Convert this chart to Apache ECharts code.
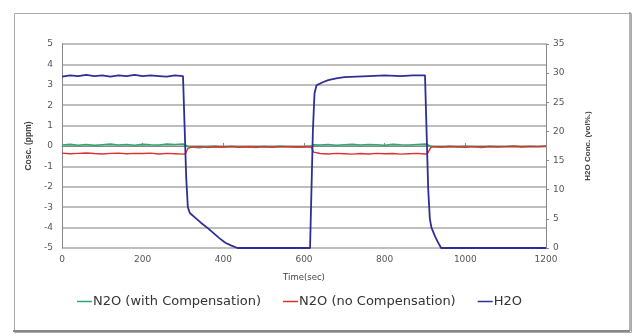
<!DOCTYPE html>
<html>
<head>
<meta charset="utf-8">
<script src="https://cdn.jsdelivr.net/npm/echarts@6/dist/echarts.min.js"></script>
<style>html,body{margin:0;padding:0;background:#fff;}#c{width:639px;height:336px;}</style>
</head>
<body>
<div id="c"></div>
<script>
var xTicks = [0, 200, 400, 600, 800, 1000, 1200];
var leftTicks = [-5, -4, -3, -2, -1, 0, 1, 2, 3, 4, 5];
var rightTicks = [0, 5, 10, 15, 20, 25, 30, 35];

var h2oTime = [0,20,40,60,80,100,120,140,160,180,200,220,240,260,280,300,304,308,312,317,330,345,360,375,390,405,420,435,500,560,615,619,622,626,631,645,660,680,700,730,760,800,840,870,900,904,908,912,916,925,932,940,1000,1100,1200];
var h2oValues = [29.4,29.6,29.5,29.7,29.5,29.6,29.4,29.6,29.5,29.7,29.5,29.6,29.5,29.4,29.6,29.5,29.5,12,7,6.0,5.2,4.3,3.5,2.6,1.7,0.9,0.4,0,0,0,0,0,20,26.5,27.9,28.4,28.8,29.1,29.3,29.4,29.5,29.6,29.5,29.6,29.6,29.6,10,5,3.5,2.0,1.0,0,0,0,0];

var n2oTime = [0,20,40,60,80,100,120,140,160,180,200,220,240,260,280,300,306,312,320,340,360,380,400,420,440,460,480,500,520,540,560,580,600,618,624,640,660,680,700,720,740,760,780,800,820,840,860,880,900,906,914,920,940,960,980,1000,1020,1040,1060,1080,1100,1120,1140,1160,1180,1200];
var n2oWith = [0.05,0.08,0.04,0.07,0.03,0.06,0.09,0.05,0.07,0.04,0.08,0.06,0.05,0.09,0.07,0.1,0.05,-0.03,-0.05,-0.08,-0.04,-0.02,-0.06,-0.03,-0.05,-0.04,-0.07,-0.03,-0.05,-0.02,-0.04,-0.06,-0.03,0.0,0.06,0.05,0.07,0.04,0.06,0.08,0.05,0.07,0.06,0.04,0.08,0.06,0.05,0.07,0.09,0.08,-0.02,-0.04,-0.06,-0.03,-0.05,-0.02,-0.04,-0.07,-0.03,-0.05,-0.04,-0.02,-0.05,-0.03,-0.04,-0.02];
var n2oNo = [-0.35,-0.38,-0.36,-0.34,-0.37,-0.39,-0.36,-0.35,-0.38,-0.36,-0.37,-0.35,-0.39,-0.36,-0.38,-0.4,-0.38,-0.12,-0.06,-0.03,-0.07,-0.04,-0.05,-0.02,-0.06,-0.04,-0.05,-0.03,-0.06,-0.04,-0.03,-0.05,-0.04,-0.06,-0.3,-0.37,-0.39,-0.36,-0.38,-0.4,-0.37,-0.39,-0.36,-0.38,-0.37,-0.4,-0.38,-0.36,-0.39,-0.38,-0.08,-0.03,-0.05,-0.02,-0.04,-0.06,-0.03,-0.05,-0.02,-0.04,-0.03,-0.01,-0.04,-0.02,-0.03,-0.01];

var seriesNames = ['N2O (with Compensation)', 'N2O (no Compensation)', 'H2O'];

function pairs(t, v) { return t.map(function (x, i) { return [x, v[i]]; }); }

var chart = echarts.init(document.getElementById('c'), null, {renderer: 'canvas'});
var axisText = {color: '#555', fontSize: 9, fontFamily: 'DejaVu Sans, sans-serif'};
chart.setOption({
  animation: false,
  backgroundColor: '#fff',
  graphic: [
    {type: 'rect', left: 12, top: 11, shape: {width: 617, height: 319}, style: {fill: 'none', stroke: '#aaa', lineWidth: 1}, z: -10},
    {type: 'line', shape: {x1: 13, y1: 331, x2: 630, y2: 331}, style: {stroke: '#888', lineWidth: 2}, z: -10},
    {type: 'line', shape: {x1: 630, y1: 12, x2: 630, y2: 331}, style: {stroke: '#999', lineWidth: 1.5}, z: -10}
  ],
  grid: {left: 62, right: 93, top: 44, bottom: 88, containLabel: false},
  legend: {
    bottom: 23, left: 72,
    itemWidth: 15, itemHeight: 1.5, itemGap: 22,
    icon: 'rect',
    textStyle: {color: '#333', fontSize: 13, fontFamily: 'DejaVu Sans, sans-serif', padding: [0, 0, 0, -4]},
    data: seriesNames
  },
  xAxis: {
    type: 'value', min: xTicks[0], max: xTicks[xTicks.length - 1], interval: 200,
    name: 'Time(sec)', nameLocation: 'middle', nameGap: 25,
    nameTextStyle: {color: '#444', fontSize: 8.5, fontFamily: 'DejaVu Sans, sans-serif'},
    axisLine: {lineStyle: {color: '#888', width: 1}},
    axisTick: {show: true, inside: true, length: 3, lineStyle: {color: '#888'}},
    axisLabel: Object.assign({margin: 7, formatter: function (v) { return String(v); }}, axisText),
    splitLine: {show: false}
  },
  yAxis: [
    {
      type: 'value', min: leftTicks[0], max: leftTicks[leftTicks.length - 1], interval: 1,
      name: 'Cosc. (ppm)', nameLocation: 'middle', nameGap: 26, nameRotate: 90,
      nameTextStyle: {color: '#444', fontSize: 8.5, fontWeight: 'bold', fontFamily: 'Liberation Sans, Arial, sans-serif'},
      axisLine: {show: true, lineStyle: {color: '#888', width: 1}},
      axisTick: {show: false},
      axisLabel: Object.assign({margin: 9}, axisText),
      splitLine: {show: true, lineStyle: {color: '#a8a8a8', width: 1.6}}
    },
    {
      type: 'value', min: rightTicks[0], max: rightTicks[rightTicks.length - 1], interval: 5,
      name: 'H2O Conc. (vol%.)', nameLocation: 'middle', nameGap: 38, nameRotate: 90,
      nameTextStyle: {color: '#444', fontSize: 8, fontWeight: 'bold', fontFamily: 'Liberation Sans, Arial, sans-serif'},
      axisLine: {show: true, lineStyle: {color: '#888', width: 1}},
      axisTick: {show: true, length: 3, lineStyle: {color: '#888'}},
      axisLabel: Object.assign({margin: 7}, axisText),
      splitLine: {show: false}
    }
  ],
  series: [
    {name: seriesNames[0], type: 'line', yAxisIndex: 0, showSymbol: false, data: pairs(n2oTime, n2oWith),
     lineStyle: {color: '#2fa870', width: 1.6}, itemStyle: {color: '#2fa870'}, z: 2},
    {name: seriesNames[1], type: 'line', yAxisIndex: 0, showSymbol: false, data: pairs(n2oTime, n2oNo),
     lineStyle: {color: '#e0302c', width: 1.4}, itemStyle: {color: '#e0302c'}, z: 3},
    {name: seriesNames[2], type: 'line', yAxisIndex: 1, showSymbol: false, data: pairs(h2oTime, h2oValues),
     lineStyle: {color: '#2e2e96', width: 1.8}, itemStyle: {color: '#2e2e96'}, z: 4}
  ]
});
</script>
</body>
</html>
